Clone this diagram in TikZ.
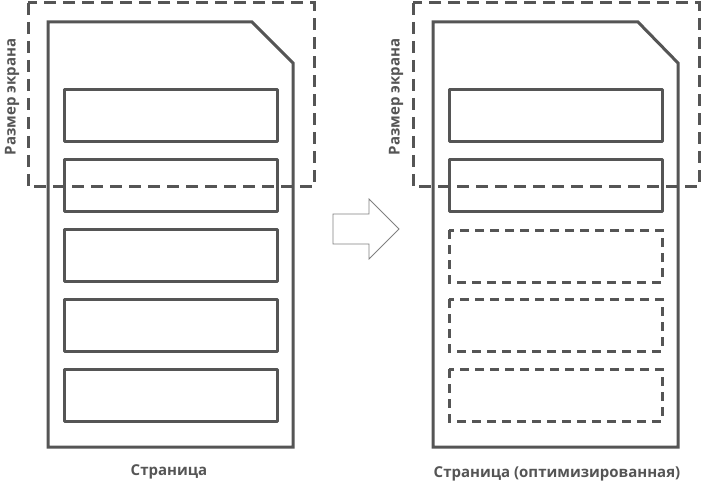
\documentclass[tikz,border=0pt]{standalone}
\usepackage{fontspec}
\setmainfont{Open Sans}[BoldFont={Open Sans Bold}]
\begin{document}
\begin{tikzpicture}[x=1pt,y=-1pt,
  ln/.style={draw=gc,line width=3pt},
  screen/.style={draw=gc,line width=3pt,dash pattern=on 12pt off 7pt},
  itembox/.style={draw=gc,line width=3pt,line join=round},
  dbox/.style={draw=gc,line width=3pt,dash pattern=on 9pt off 6pt},
  lbl/.style={text=gc,font=\bfseries\fontsize{15}{17}\selectfont,inner sep=0pt}]
\definecolor{gc}{HTML}{555555}
\useasboundingbox (0,0) rectangle (702,484);
% left page
\draw[ln] (48,22) -- (252,22) -- (293,63) -- (293,447) -- (48,447) -- cycle;
\foreach \y [count=\i] in {90,160,229,299,369}
  \draw[itembox] (64,\y) rectangle (277,\y+52) coordinate (lb\i);
\draw[screen] (28,3) rectangle (314,187);
\node[lbl,rotate=90] (ls) at (12,97) {Размер экрана};
\node[lbl] (lt) at (169,472) {Страница};
% arrow
\draw[draw=gray,line width=0.8pt] (333,214) -- (369,214) -- (369,199) -- (399,229) -- (369,259) -- (369,244) -- (333,244) -- cycle;
% right page
\draw[ln] (433,22) -- (638,22) -- (678,63) -- (678,447) -- (433,447) -- cycle;
\foreach \y [count=\i] in {90,160}
  \draw[itembox] (449,\y) rectangle (662,\y+52) coordinate (rb\i);
\foreach \y [count=\i] in {230,299,369}
  \draw[dbox] (449,\y) rectangle (662,\y+52) coordinate (rd\i);
\draw[screen] (413,3) rectangle (699,187);
\node[lbl,rotate=90] (rs) at (396,97) {Размер экрана};
\node[lbl] (rt) at (557,474) {Страница (оптимизированная)};
\end{tikzpicture}
\end{document}
